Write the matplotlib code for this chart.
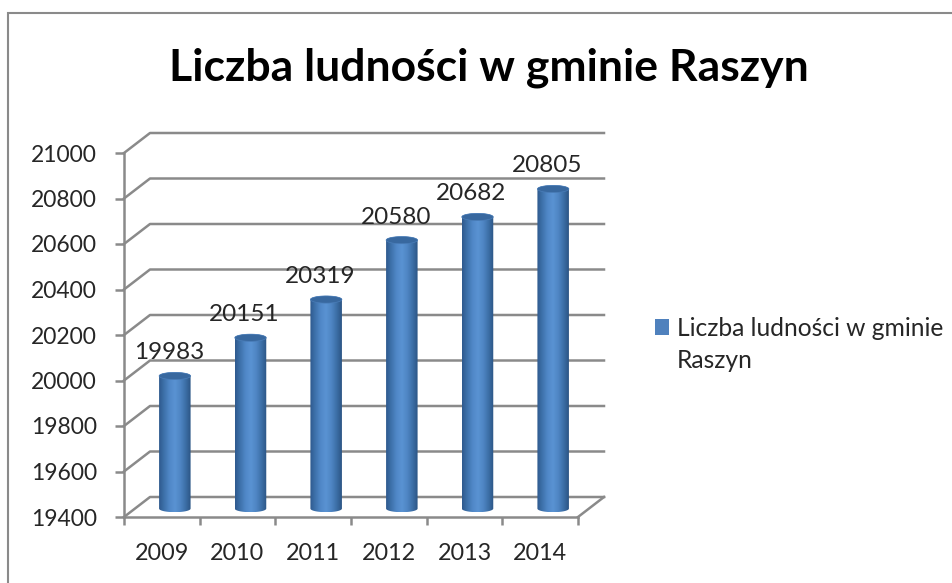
import numpy as np
import matplotlib
matplotlib.use("Agg")
import matplotlib.pyplot as plt
from matplotlib.colors import LinearSegmentedColormap
from matplotlib.patches import Polygon, Rectangle, Patch

years = ["2009", "2010", "2011", "2012", "2013", "2014"]
population = [19983, 20151, 20319, 20580, 20682, 20805]
y_ticks = [19400, 19600, 19800, 20000, 20200, 20400, 20600, 20800, 21000]
title = "Liczba ludności w gminie Raszyn"
legend_lines = ["Liczba ludności w gminie", "Raszyn"]

plt.rcParams["font.family"] = ["Lato", "DejaVu Sans"]

W, H = 953, 583
GREY = "#8a8a8a"
TEXT = "#262626"
fig = plt.figure(figsize=(W / 100, H / 100), dpi=100)

# outer chart frame
fig.add_artist(Rectangle((8 / W, -0.02), (W - 8 + 20) / W, (H - 13) / H + 0.02,
                         transform=fig.transFigure, fill=False, ec=GREY, lw=1.5))

# axes = front plane of the fake 3d box
ax = fig.add_axes([124 / W, 1 - 517 / H, 454 / W, 364 / H])
ax.patch.set_visible(False)

x_depth = 26 / (454 / 6)
y_depth = 20 / (364 / 1600)

for v in y_ticks:
    ax.plot([0, x_depth, 6 + x_depth], [v, v + y_depth, v + y_depth],
            color=GREY, lw=1.8, clip_on=False, zorder=1, solid_joinstyle="round")
ax.plot([6, 6 + x_depth], [19400, 19400 + y_depth], color=GREY, lw=1.8, clip_on=False, zorder=1)

# cylinders
shade = LinearSegmentedColormap.from_list(
    "cyl", ["#2f5a8e", "#3f73ad", "#5088c8", "#5a93d3", "#4f86c4", "#3d70a8", "#2c5585"])
grad = np.linspace(0, 1, 64).reshape(1, -1)
bar_w = 31.5 / (454 / 6)
rx = bar_w / 2
ry = 3.6 / (364 / 1600)
lift = y_depth * 0.42
t = np.linspace(0, np.pi, 40)
for i, val in enumerate(population):
    cx = i + 0.5 + x_depth / 2
    base = 19400 + lift
    top = val + lift
    top_edge = np.column_stack([cx - rx * np.cos(t), top + ry * np.sin(t)])
    bottom_edge = np.column_stack([cx + rx * np.cos(t), base - ry * np.sin(t)])
    clip = Polygon(np.vstack([top_edge, bottom_edge]), transform=ax.transData)
    im = ax.imshow(grad, cmap=shade, aspect="auto", zorder=3,
                   extent=[cx - rx, cx + rx, base - ry, top + ry])
    im.set_clip_path(clip)
    ell = np.column_stack([cx + rx * np.cos(2 * t), top + ry * np.sin(2 * t)])
    ax.add_patch(Polygon(ell, fc="#38689f", ec="#4a7db8", lw=0.5, zorder=4, clip_on=False))
    ax.annotate(str(val), (i + 0.5, val), xytext=(5, 18), textcoords="offset points",
                ha="center", va="baseline", fontsize=17.5, color=TEXT, zorder=5)

ax.set_xlim(0, 6)
ax.set_ylim(19400, 21000)

for s in ["top", "right"]:
    ax.spines[s].set_visible(False)
for s in ["left", "bottom"]:
    ax.spines[s].set_color(GREY)
    ax.spines[s].set_linewidth(1.8)

ax.set_yticks(y_ticks)
ax.set_yticklabels([str(v) for v in y_ticks], fontsize=16.5, color=TEXT)
ax.set_xticks(range(7))
ax.set_xticklabels([])
ax.set_xticks(np.arange(6) + 0.5, labels=years, minor=True, fontsize=16.8, color=TEXT)
ax.tick_params(axis="y", length=6.5, width=1.8, color=GREY, pad=13)
ax.tick_params(axis="x", which="major", length=6, width=1.8, color=GREY)
ax.tick_params(axis="x", which="minor", length=0, pad=19)

fig.text(489 / W, 1 - 68 / H, title, ha="center", va="center", fontsize=32, fontweight="bold", color="black")

fig.legend(handles=[Patch(fc="#4f81bd", label=legend_lines[0])],
           loc="center left", bbox_to_anchor=(655 / W, 1 - 328 / H), frameon=False,
           prop={"size": 17.7}, labelcolor=TEXT, handlelength=0.57, handleheight=0.6,
           handletextpad=0.33, borderpad=0, borderaxespad=0)
fig.text(677 / W, 1 - 361 / H, legend_lines[1], ha="left", va="center", fontsize=17.7, color=TEXT)

fig.savefig("out.png", dpi=100)
